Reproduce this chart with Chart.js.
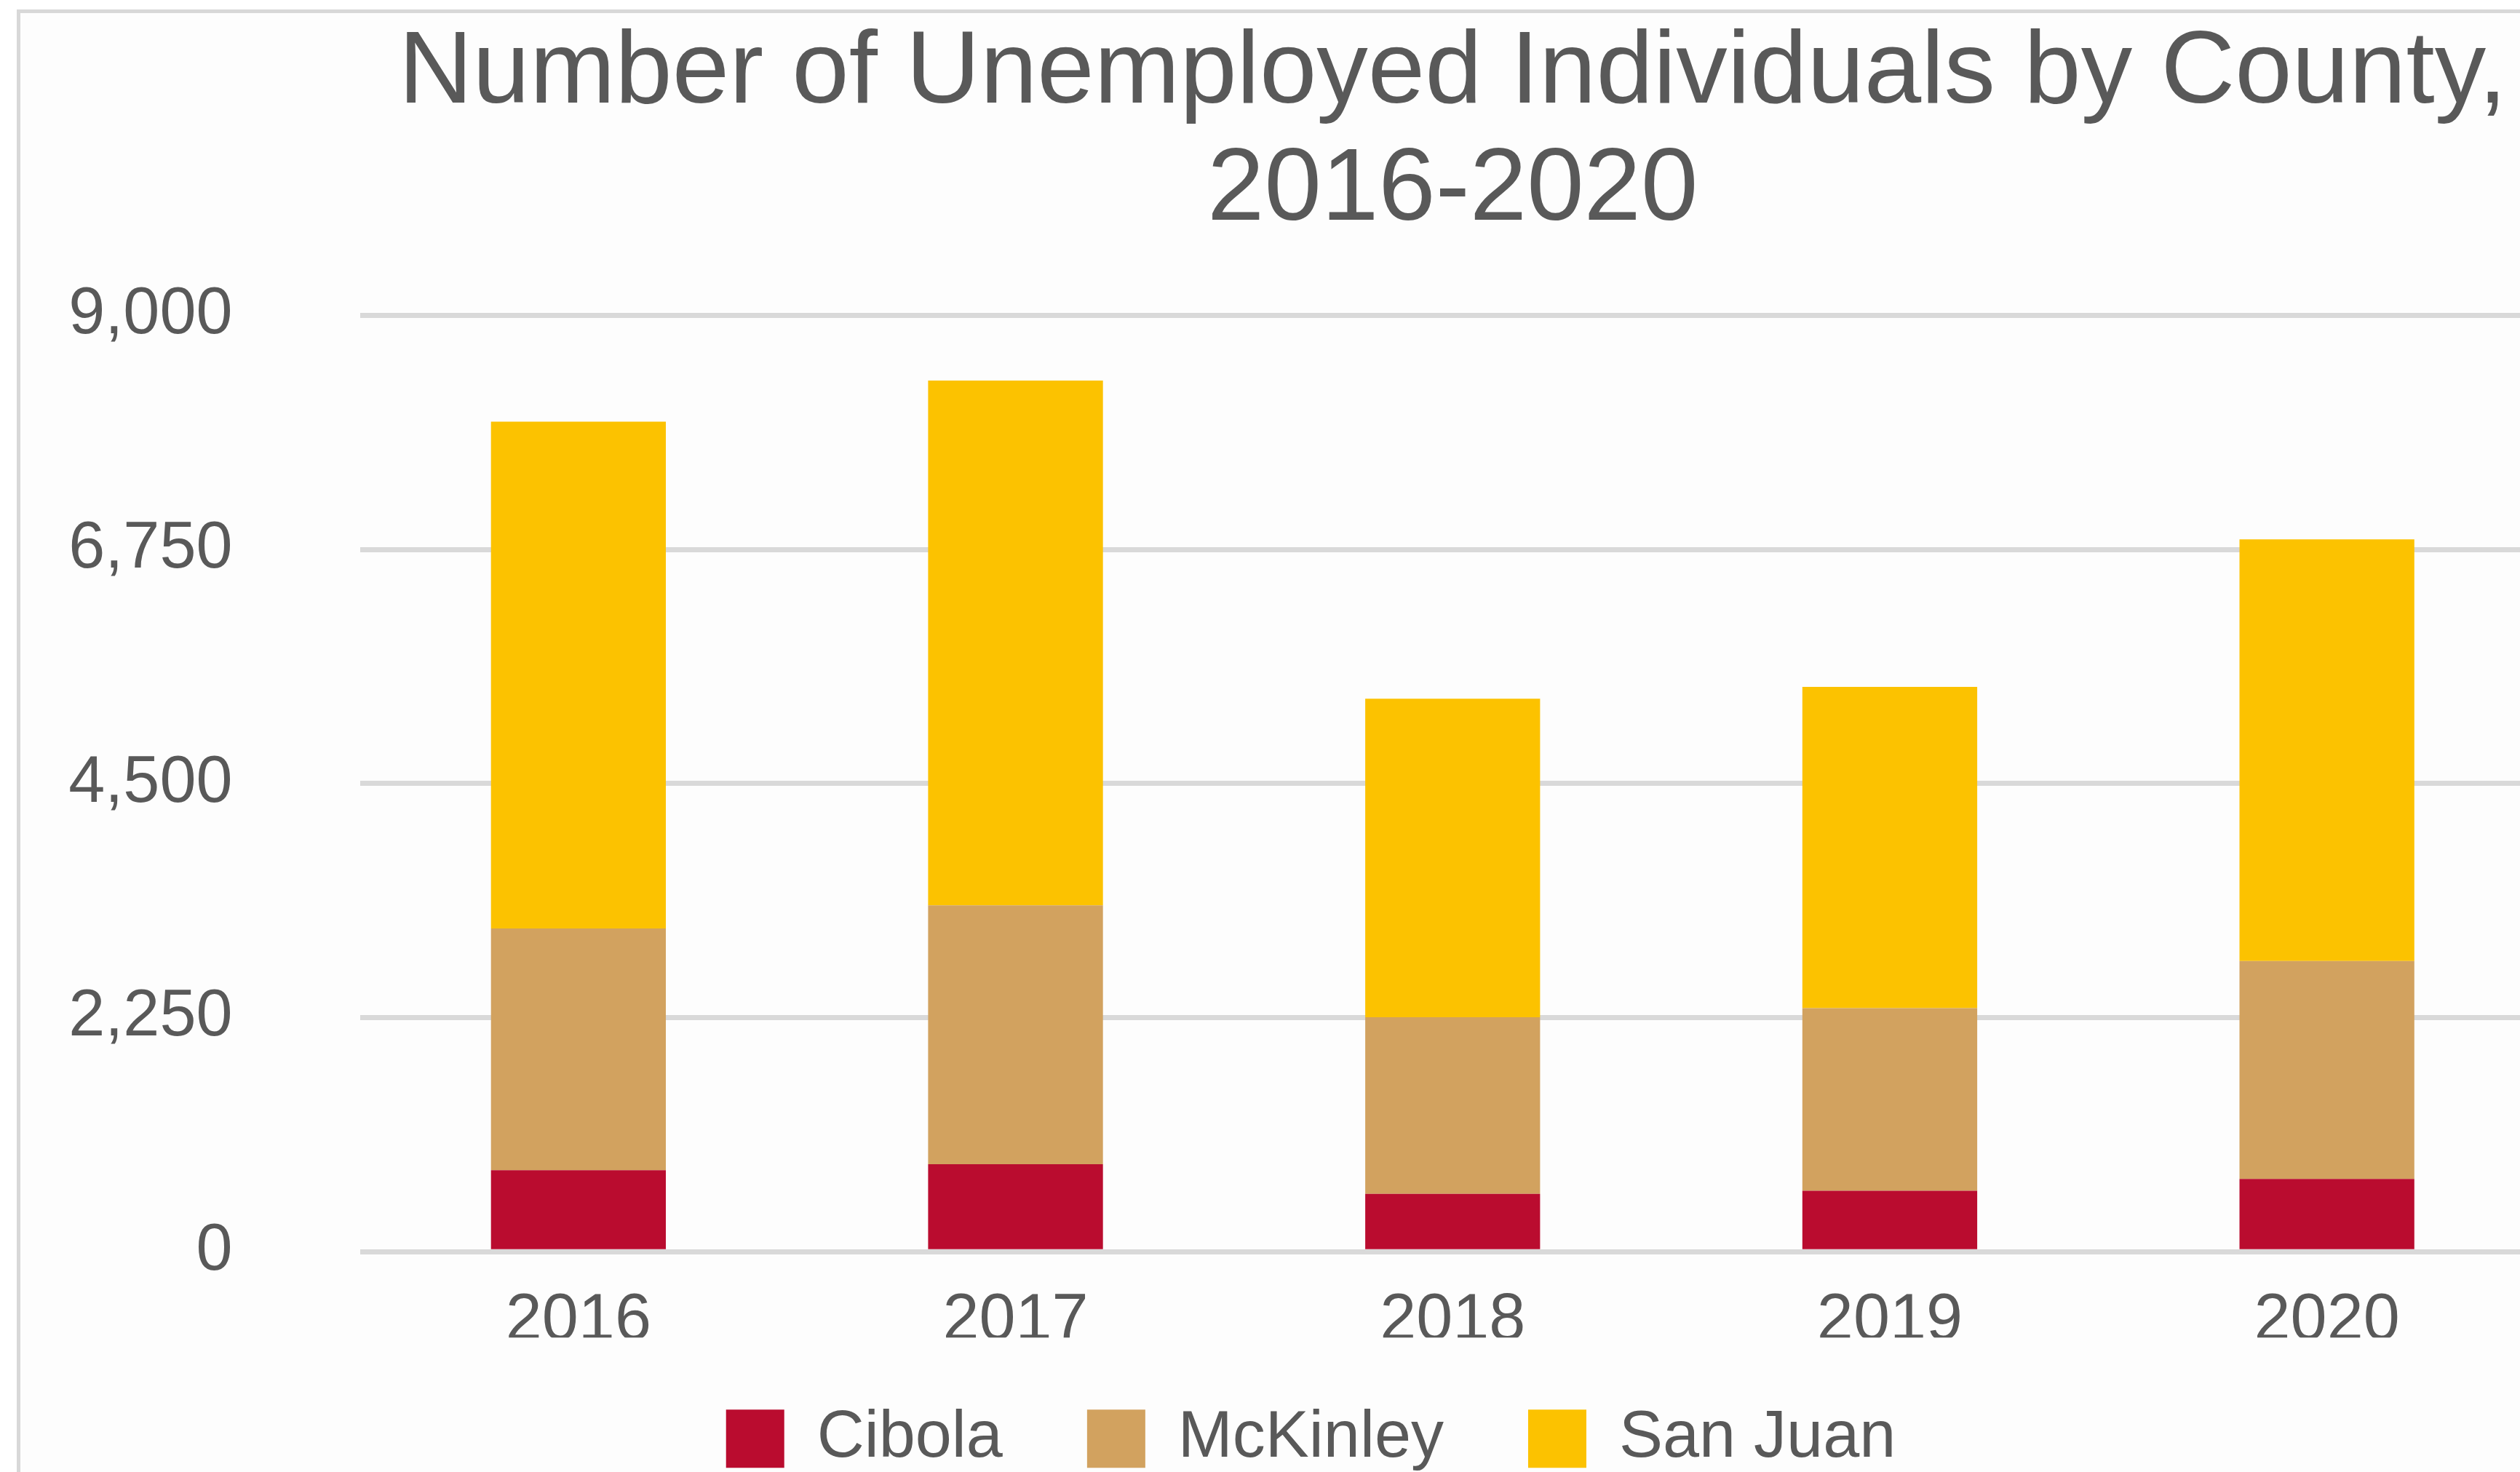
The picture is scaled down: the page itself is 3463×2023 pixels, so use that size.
<!DOCTYPE html>
<html>
<head>
<meta charset="utf-8">
<script src="https://cdn.jsdelivr.net/npm/chart.js@4.4.1/dist/chart.umd.min.js"></script>
<style>
  html, body { margin: 0; padding: 0; background: #ffffff; overflow: hidden; width: 3463px; height: 2023px; }
  #frame { position: absolute; left: 23px; top: 13px; width: 3600px; height: 2100px;
           border-left: 5px solid #d8d8d8; border-top: 5px solid #d8d8d8; background: #fdfdfd; }
  #chart { position: absolute; left: 29px; top: 9px; }
</style>
</head>
<body>
<div id="frame"></div>
<canvas id="chart" width="3600" height="2100"></canvas>
<script>
var years = ['2016', '2017', '2018', '2019', '2020'];
var cibola = [783, 841, 557, 586, 699];
var mckinley = [2325, 2488, 1697, 1756, 2095];
var sanJuan = [4872, 5045, 3062, 3087, 4053];
var yTicks = [0, 2250, 4500, 6750, 9000];

var textColor = '#595959';
var fontFamily = '"Liberation Sans", Arial, sans-serif';

// legend padding is also the gap between items, so pull the legend up a bit
var legendLift = {
    id: 'legendLift',
    afterLayout: function(chart) {
        chart.legend.top -= 22;
        chart.legend.bottom -= 22;
    }
};

var ctx = document.getElementById('chart').getContext('2d');

var chart = new Chart(ctx, {
    type: 'bar',
    data: {
        labels: years,
        datasets: [
            { label: 'Cibola', data: cibola, backgroundColor: '#ba0c2f' },
            { label: 'McKinley', data: mckinley, backgroundColor: '#d2a25f' },
            { label: 'San Juan', data: sanJuan, backgroundColor: '#fcc200' }
        ]
    },
    plugins: [legendLift],
    options: {
        responsive: false,
        animation: false,
        devicePixelRatio: 1,
        layout: { padding: { left: 0, right: 55, top: 0, bottom: 54.7 } },
        datasets: {
            bar: { barPercentage: 0.4, categoryPercentage: 1.0, borderWidth: 0 }
        },
        scales: {
            x: {
                stacked: true,
                grid: { display: false },
                border: { display: false },
                ticks: {
                    color: textColor,
                    padding: 34,
                    font: { family: fontFamily, size: 90 }
                },
                afterFit: function(scale) { scale.height = 118; }
            },
            y: {
                stacked: true,
                min: 0,
                max: 9000,
                afterBuildTicks: function(scale) {
                    scale.ticks = yTicks.map(function(v) { return { value: v }; });
                },
                grid: { color: '#d9d9d9', lineWidth: 7, drawTicks: false },
                border: { display: false },
                ticks: {
                    color: textColor,
                    padding: 175,
                    font: { family: fontFamily, size: 90 },
                    callback: function(value) { return value.toLocaleString('en-US'); }
                },
                afterFit: function(scale) { scale.width = 465.5; }
            },
            // empty right-hand spacer so the legend sits left of the plot centre
            spacer: {
                type: 'linear',
                position: 'right',
                grid: { display: false },
                border: { display: false },
                ticks: { display: false },
                afterFit: function(scale) { scale.width = 76; }
            }
        },
        plugins: {
            title: {
                display: true,
                text: ['Number of Unemployed Individuals by County,', '2016-2020'],
                color: textColor,
                fullSize: false,
                font: { family: fontFamily, size: 141, weight: 'normal', lineHeight: 1.142 },
                padding: { top: 13, bottom: 89.5 }
            },
            legend: {
                position: 'bottom',
                labels: {
                    color: textColor,
                    boxWidth: 80,
                    boxHeight: 80,
                    padding: 116,
                    font: { family: fontFamily, size: 90 }
                }
            },
            tooltip: { enabled: false }
        }
    }
});
</script>
</body>
</html>
